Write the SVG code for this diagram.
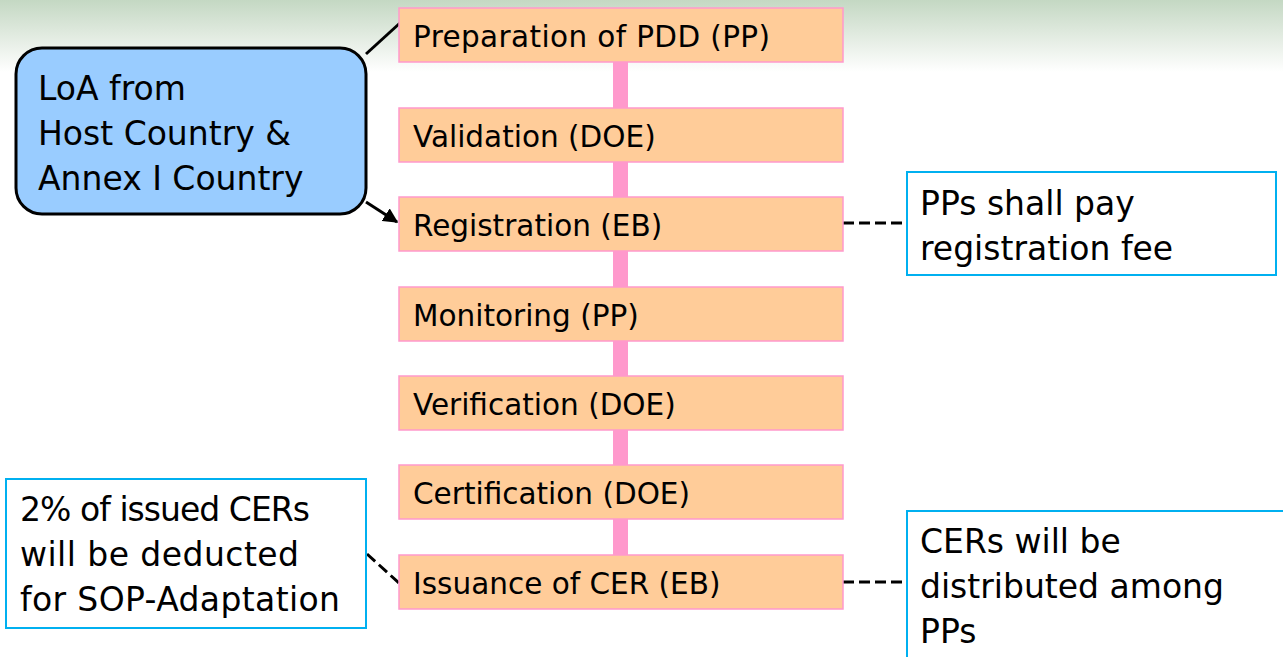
<svg xmlns="http://www.w3.org/2000/svg" width="1283" height="657" viewBox="0 0 1283 657">
  <defs>
    <linearGradient id="sky" x1="0" y1="0" x2="0" y2="1">
      <stop offset="0" stop-color="#c4d8c3"/>
      <stop offset="0.5" stop-color="#e2ebe1"/>
      <stop offset="1" stop-color="#ffffff"/>
    </linearGradient>
    <marker id="arrow" viewBox="0 0 10 10" refX="9" refY="5" markerWidth="5" markerHeight="5" orient="auto" markerUnits="strokeWidth">
      <path d="M0,0 L10,5 L0,10 z" fill="#000"/>
    </marker>
    <style>
      .step { fill: #ffcc99; stroke: #ff99cc; stroke-width: 1.5; }
      .step-text { font-family: "DejaVu Sans", "Verdana", sans-serif; font-size: 29.5px; fill: #000; }
      .note { fill: #ffffff; stroke: #00b0f0; stroke-width: 2; }
      .note-text { font-family: "DejaVu Sans", "Verdana", sans-serif; font-size: 33px; fill: #000; }
      .dash { stroke: #000; stroke-width: 3; stroke-dasharray: 11 5; fill: none; }
      .solid { stroke: #000; stroke-width: 3; fill: none; }
    </style>
  </defs>

  <!-- page background with soft top band -->
  <rect x="0" y="0" width="1283" height="657" fill="#ffffff"/>
  <rect x="0" y="0" width="1283" height="72" fill="url(#sky)"/>

  <!-- connectors -->
  <g id="connectors">
    <rect x="613" y="62" width="15" height="495" fill="#ff99cc"/>
    <line class="solid" x1="366" y1="54" x2="400" y2="23"/>
    <line class="solid" x1="366" y1="202" x2="397" y2="222" marker-end="url(#arrow)"/>
    <line class="dash" x1="843" y1="223" x2="907" y2="223"/>
    <line class="dash" x1="367" y1="554" x2="399" y2="583"/>
    <line class="dash" x1="843" y1="582" x2="907" y2="582"/>
  </g>

  <!-- process steps -->
  <g id="step-pdd">
    <rect class="step" x="399" y="8" width="444" height="54"/>
    <text class="step-text" x="413" y="47" textLength="357">Preparation of PDD (PP)</text>
  </g>
  <g id="step-validation">
    <rect class="step" x="399" y="108" width="444" height="54"/>
    <text class="step-text" x="413" y="147">Validation (DOE)</text>
  </g>
  <g id="step-registration">
    <rect class="step" x="399" y="197" width="444" height="54"/>
    <text class="step-text" x="413" y="236">Registration (EB)</text>
  </g>
  <g id="step-monitoring">
    <rect class="step" x="399" y="287" width="444" height="54"/>
    <text class="step-text" x="413" y="326">Monitoring (PP)</text>
  </g>
  <g id="step-verification">
    <rect class="step" x="399" y="376" width="444" height="54"/>
    <text class="step-text" x="413" y="415">Verification (DOE)</text>
  </g>
  <g id="step-certification">
    <rect class="step" x="399" y="465" width="444" height="54"/>
    <text class="step-text" x="413" y="504">Certification (DOE)</text>
  </g>
  <g id="step-issuance">
    <rect class="step" x="399" y="555" width="444" height="54"/>
    <text class="step-text" x="413" y="594">Issuance of CER (EB)</text>
  </g>

  <!-- letter of approval -->
  <g id="loa">
    <rect x="16" y="48" width="350" height="166" rx="26" ry="26" fill="#99ccff" stroke="#000" stroke-width="3"/>
    <text class="note-text" x="38" y="100">LoA from</text>
    <text class="note-text" x="38" y="145">Host Country &amp;</text>
    <text class="note-text" x="38" y="190">Annex I Country</text>
  </g>

  <!-- side notes -->
  <g id="note-fee">
    <rect class="note" x="907" y="172" width="369" height="103"/>
    <text class="note-text" x="920" y="215">PPs shall pay</text>
    <text class="note-text" x="920" y="260">registration fee</text>
  </g>
  <g id="note-adaptation">
    <rect class="note" x="6" y="479" width="360" height="149"/>
    <text class="note-text" x="20" y="521" textLength="290">2% of issued CERs</text>
    <text class="note-text" x="20" y="566" textLength="279">will be deducted</text>
    <text class="note-text" x="20" y="611" textLength="320">for SOP-Adaptation</text>
  </g>
  <g id="note-distribution">
    <rect class="note" x="907" y="511" width="390" height="160"/>
    <text class="note-text" x="920" y="553">CERs will be</text>
    <text class="note-text" x="920" y="598">distributed among</text>
    <text class="note-text" x="920" y="643">PPs</text>
  </g>
</svg>
